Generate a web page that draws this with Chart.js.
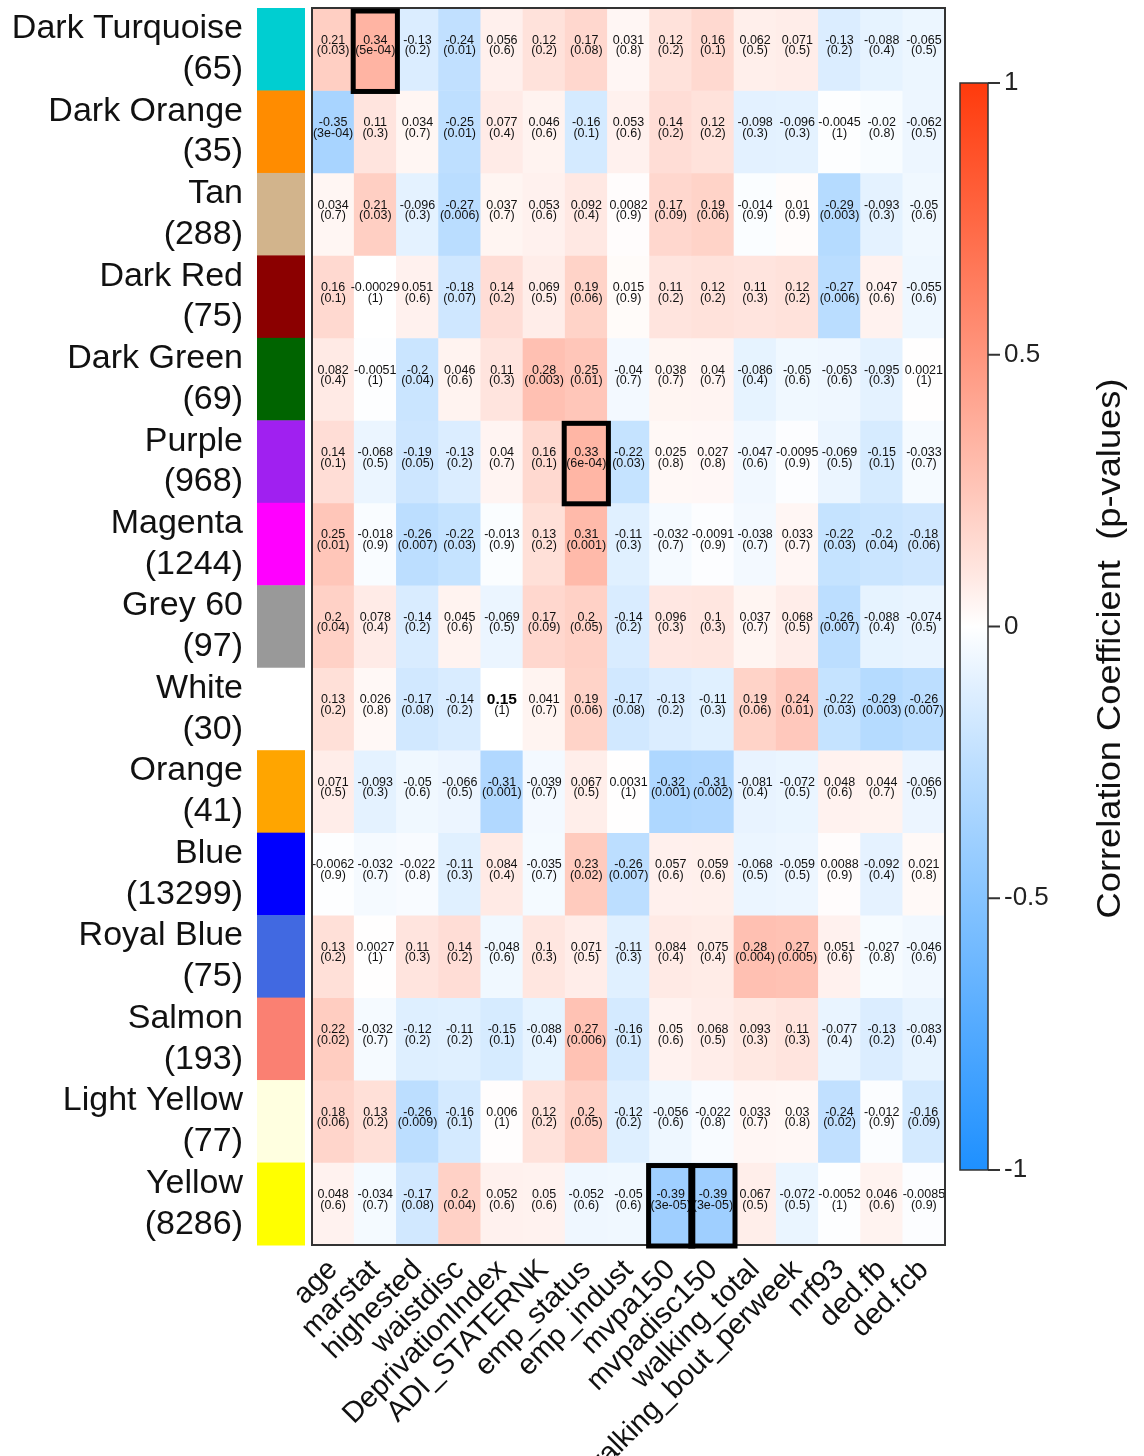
<!DOCTYPE html>
<html>
<head>
<meta charset="utf-8">
<script src="https://cdn.jsdelivr.net/npm/chart.js@4.4.1/dist/chart.umd.min.js"></script>
<style>
  html, body { margin: 0; padding: 0; background: #fff; }
</style>
</head>
<body>
<canvas id="heat" width="1144" height="1456"></canvas>
<script>
// modules (rows)
const moduleNames = ['Dark Turquoise', 'Dark Orange', 'Tan', 'Dark Red', 'Dark Green', 'Purple', 'Magenta',
  'Grey 60', 'White', 'Orange', 'Blue', 'Royal Blue', 'Salmon', 'Light Yellow', 'Yellow'];
const moduleSizes = [65, 35, 288, 75, 69, 968, 1244, 97, 30, 41, 13299, 75, 193, 77, 8286];
const moduleColors = ['#00CED1', '#FF8C00', '#D2B48C', '#8B0000', '#006400', '#A020F0', '#FF00FF',
  '#999999', '#FFFFFF', '#FFA500', '#0000FF', '#4169E1', '#FA8072', '#FFFFE0', '#FFFF00'];

// traits (columns)
const traits = ['age', 'marstat', 'highested', 'waistdisc', 'DeprivationIndex', 'ADI_STATERNK', 'emp_status',
  'emp_indust', 'mvpa150', 'mvpadisc150', 'walking_total', 'walking_bout_perweek', 'nrf93', 'ded.fb', 'ded.fcb'];

// correlation coefficients, one row per module
const corrValues = [
  [0.21, 0.34, -0.13, -0.24, 0.056, 0.12, 0.17, 0.031, 0.12, 0.16, 0.062, 0.071, -0.13, -0.088, -0.065],
  [-0.35, 0.11, 0.034, -0.25, 0.077, 0.046, -0.16, 0.053, 0.14, 0.12, -0.098, -0.096, -0.0045, -0.02, -0.062],
  [0.034, 0.21, -0.096, -0.27, 0.037, 0.053, 0.092, 0.0082, 0.17, 0.19, -0.014, 0.01, -0.29, -0.093, -0.05],
  [0.16, -0.00029, 0.051, -0.18, 0.14, 0.069, 0.19, 0.015, 0.11, 0.12, 0.11, 0.12, -0.27, 0.047, -0.055],
  [0.082, -0.0051, -0.2, 0.046, 0.11, 0.28, 0.25, -0.04, 0.038, 0.04, -0.086, -0.05, -0.053, -0.095, 0.0021],
  [0.14, -0.068, -0.19, -0.13, 0.04, 0.16, 0.33, -0.22, 0.025, 0.027, -0.047, -0.0095, -0.069, -0.15, -0.033],
  [0.25, -0.018, -0.26, -0.22, -0.013, 0.13, 0.31, -0.11, -0.032, -0.0091, -0.038, 0.033, -0.22, -0.2, -0.18],
  [0.2, 0.078, -0.14, 0.045, -0.069, 0.17, 0.2, -0.14, 0.096, 0.1, 0.037, 0.068, -0.26, -0.088, -0.074],
  [0.13, 0.026, -0.17, -0.14, 0.15, 0.041, 0.19, -0.17, -0.13, -0.11, 0.19, 0.24, -0.22, -0.29, -0.26],
  [0.071, -0.093, -0.05, -0.066, -0.31, -0.039, 0.067, 0.0031, -0.32, -0.31, -0.081, -0.072, 0.048, 0.044, -0.066],
  [-0.0062, -0.032, -0.022, -0.11, 0.084, -0.035, 0.23, -0.26, 0.057, 0.059, -0.068, -0.059, 0.0088, -0.092, 0.021],
  [0.13, 0.0027, 0.11, 0.14, -0.048, 0.1, 0.071, -0.11, 0.084, 0.075, 0.28, 0.27, 0.051, -0.027, -0.046],
  [0.22, -0.032, -0.12, -0.11, -0.15, -0.088, 0.27, -0.16, 0.05, 0.068, 0.093, 0.11, -0.077, -0.13, -0.083],
  [0.18, 0.13, -0.26, -0.16, 0.006, 0.12, 0.2, -0.12, -0.056, -0.022, 0.033, 0.03, -0.24, -0.012, -0.16],
  [0.048, -0.034, -0.17, 0.2, 0.052, 0.05, -0.052, -0.05, -0.39, -0.39, 0.067, -0.072, -0.0052, 0.046, -0.0085]
];

// p-values, printed as in the picture
const pValues = [
  ['0.03', '5e-04', '0.2', '0.01', '0.6', '0.2', '0.08', '0.8', '0.2', '0.1', '0.5', '0.5', '0.2', '0.4', '0.5'],
  ['3e-04', '0.3', '0.7', '0.01', '0.4', '0.6', '0.1', '0.6', '0.2', '0.2', '0.3', '0.3', '1', '0.8', '0.5'],
  ['0.7', '0.03', '0.3', '0.006', '0.7', '0.6', '0.4', '0.9', '0.09', '0.06', '0.9', '0.9', '0.003', '0.3', '0.6'],
  ['0.1', '1', '0.6', '0.07', '0.2', '0.5', '0.06', '0.9', '0.2', '0.2', '0.3', '0.2', '0.006', '0.6', '0.6'],
  ['0.4', '1', '0.04', '0.6', '0.3', '0.003', '0.01', '0.7', '0.7', '0.7', '0.4', '0.6', '0.6', '0.3', '1'],
  ['0.1', '0.5', '0.05', '0.2', '0.7', '0.1', '6e-04', '0.03', '0.8', '0.8', '0.6', '0.9', '0.5', '0.1', '0.7'],
  ['0.01', '0.9', '0.007', '0.03', '0.9', '0.2', '0.001', '0.3', '0.7', '0.9', '0.7', '0.7', '0.03', '0.04', '0.06'],
  ['0.04', '0.4', '0.2', '0.6', '0.5', '0.09', '0.05', '0.2', '0.3', '0.3', '0.7', '0.5', '0.007', '0.4', '0.5'],
  ['0.2', '0.8', '0.08', '0.2', '1', '0.7', '0.06', '0.08', '0.2', '0.3', '0.06', '0.01', '0.03', '0.003', '0.007'],
  ['0.5', '0.3', '0.6', '0.5', '0.001', '0.7', '0.5', '1', '0.001', '0.002', '0.4', '0.5', '0.6', '0.7', '0.5'],
  ['0.9', '0.7', '0.8', '0.3', '0.4', '0.7', '0.02', '0.007', '0.6', '0.6', '0.5', '0.5', '0.9', '0.4', '0.8'],
  ['0.2', '1', '0.3', '0.2', '0.6', '0.3', '0.5', '0.3', '0.4', '0.4', '0.004', '0.005', '0.6', '0.8', '0.6'],
  ['0.02', '0.7', '0.2', '0.2', '0.1', '0.4', '0.006', '0.1', '0.6', '0.5', '0.3', '0.3', '0.4', '0.2', '0.4'],
  ['0.06', '0.2', '0.009', '0.1', '1', '0.2', '0.05', '0.2', '0.6', '0.8', '0.7', '0.8', '0.02', '0.9', '0.09'],
  ['0.6', '0.7', '0.08', '0.04', '0.6', '0.6', '0.6', '0.6', '3e-05', '3e-05', '0.5', '0.5', '1', '0.6', '0.9']
];

// [row, column] cells outlined in black, and the one printed in bold
const boxedCells = [[0, 1], [5, 6], [14, 8], [14, 9]];
const boldCells = [[8, 4]];
const colorbarTicks = [-1, -0.5, 0, 0.5, 1];

const BLUE = [30, 144, 255];
const RED = [255, 58, 12];

function corrColor(v) {
  const end = v < 0 ? BLUE : RED;
  const t = Math.pow(Math.min(1, Math.abs(v)), 0.9);
  const c = end.map(e => Math.round(255 + (e - 255) * t));
  return `rgb(${c[0]},${c[1]},${c[2]})`;
}
function isBold(r, c) { return boldCells.some(b => b[0] === r && b[1] === c); }

const datasets = corrValues.map((row, r) => ({
  label: moduleNames[r],
  data: row.map(() => [r, r + 1]),
  backgroundColor: row.map((v, c) => isBold(r, c) ? '#ffffff' : corrColor(v)),
  borderWidth: 0,
  grouped: false,
  barPercentage: 1,
  categoryPercentage: 1
}));

const FONT = '"Liberation Sans", Arial, Helvetica, sans-serif';

// no extra room for the first/last tick labels: the grid fills the frame
function noPadding(scale) {
  scale.paddingTop = 0;
  scale.paddingBottom = 0;
  scale.paddingLeft = 0;
  scale.paddingRight = 0;
}

const heatPlugin = {
  id: 'heatExtras',
  afterDatasetsDraw(chart) {
    const ctx = chart.ctx;
    const xs = chart.scales.x, ys = chart.scales.y, cb = chart.scales.cbar;
    const area = chart.chartArea;
    const colW = xs.getPixelForValue(1) - xs.getPixelForValue(0);
    ctx.save();

    // module colour strip
    moduleColors.forEach((col, r) => {
      const y0 = ys.getPixelForValue(r), y1 = ys.getPixelForValue(r + 1);
      ctx.fillStyle = col;
      ctx.fillRect(257, y0, 48, y1 - y0 + 0.5);
    });

    // cell texts
    ctx.textAlign = 'center';
    ctx.textBaseline = 'middle';
    corrValues.forEach((row, r) => {
      const yc = ys.getPixelForValue(r + 0.5);
      row.forEach((v, c) => {
        const xc = xs.getPixelForValue(c);
        if (isBold(r, c)) {
          ctx.fillStyle = '#000';
          ctx.font = 'bold 15.5px ' + FONT;
        } else {
          ctx.fillStyle = '#111';
          ctx.font = '12.5px ' + FONT;
        }
        ctx.fillText(String(v), xc, yc - 9);
        ctx.fillStyle = '#111';
        ctx.font = '12.5px ' + FONT;
        ctx.fillText('(' + pValues[r][c] + ')', xc, yc + 1.5);
      });
    });

    // grid border
    ctx.strokeStyle = '#333';
    ctx.lineWidth = 2;
    ctx.strokeRect(area.left, area.top, area.right - area.left, area.bottom - area.top);

    // highlighted cells
    ctx.strokeStyle = '#000';
    ctx.lineWidth = 5;
    boxedCells.forEach(([r, c]) => {
      const x0 = xs.getPixelForValue(c) - colW / 2;
      const y0 = ys.getPixelForValue(r), y1 = ys.getPixelForValue(r + 1);
      ctx.strokeRect(x0 - 1, y0 + 3, colW + 2, y1 - y0 - 2);
    });

    // colour bar
    const top = cb.getPixelForValue(1), bot = cb.getPixelForValue(-1);
    const grad = ctx.createLinearGradient(0, top, 0, bot);
    [1, 0.75, 0.5, 0.25, 0.1, 0, -0.1, -0.25, -0.5, -0.75, -1].forEach(v => {
      grad.addColorStop((1 - v) / 2, corrColor(v));
    });
    ctx.fillStyle = grad;
    ctx.fillRect(960, top, 28, bot - top);
    ctx.strokeStyle = '#333';
    ctx.lineWidth = 1.5;
    ctx.strokeRect(960, top, 28, bot - top);
    ctx.lineWidth = 2;
    colorbarTicks.forEach(v => {
      const y = cb.getPixelForValue(v);
      ctx.beginPath();
      ctx.moveTo(988, y);
      ctx.lineTo(1000, y);
      ctx.stroke();
    });

    // colour bar title
    const title = 'Correlation Coefficient  (p-values)';
    ctx.font = '31px ' + FONT;
    const w = ctx.measureText(title).width;
    ctx.translate(1111, cb.getPixelForValue(0) + 22);
    ctx.rotate(-Math.PI / 2);
    ctx.scale(540 / w, 1.05);
    ctx.fillStyle = '#111';
    ctx.textAlign = 'center';
    ctx.textBaseline = 'middle';
    ctx.fillText(title, 0, 0);
    ctx.restore();
  }
};

new Chart(document.getElementById('heat'), {
  type: 'bar',
  data: { labels: traits, datasets: datasets },
  options: {
    responsive: false,
    animation: false,
    events: [],
    layout: { padding: { top: 8, right: 0, bottom: 0, left: 0 } },
    plugins: { legend: { display: false }, tooltip: { enabled: false } },
    scales: {
      x: {
        type: 'category',
        grid: { display: false, drawTicks: false },
        border: { display: false },
        afterFit(scale) { scale.height = 211; noPadding(scale); },
        ticks: {
          autoSkip: false,
          minRotation: 45,
          maxRotation: 45,
          padding: 8,
          color: '#111',
          font: { family: FONT, size: 29 }
        }
      },
      y: {
        type: 'linear',
        position: 'left',
        reverse: true,
        min: 0,
        max: moduleNames.length,
        grid: { display: false, drawTicks: false },
        border: { display: false },
        afterFit(scale) { scale.width = 312; noPadding(scale); },
        afterBuildTicks(scale) { scale.ticks = moduleNames.map((_, i) => ({ value: i + 0.5 })); },
        ticks: {
          autoSkip: false,
          padding: 69,
          color: '#111',
          font: { family: FONT, size: 34, lineHeight: 1.2 },
          callback: (v) => {
            const i = Math.round(v - 0.5);
            return [moduleNames[i], '(' + moduleSizes[i] + ')'];
          }
        }
      },
      cbar: {
        type: 'linear',
        position: 'right',
        min: -1.138,
        max: 1.138,
        grid: { display: false, drawTicks: false },
        border: { display: false },
        afterFit(scale) { scale.width = 199; noPadding(scale); },
        afterBuildTicks(scale) { scale.ticks = colorbarTicks.map(v => ({ value: v })); },
        ticks: {
          autoSkip: false,
          padding: 59,
          color: '#222',
          font: { family: FONT, size: 26 },
          callback: (v) => String(v)
        }
      }
    }
  },
  plugins: [heatPlugin]
});
</script>
</body>
</html>
